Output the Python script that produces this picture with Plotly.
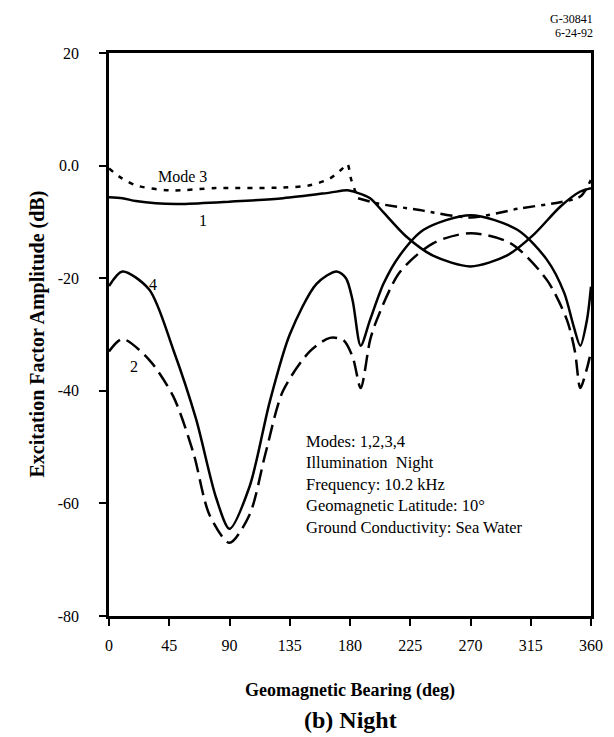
import plotly.graph_objects as go

# Mode excitation factor amplitudes (dB), by bearing (deg)
mode1_deg = [0, 10, 20, 35, 55, 90, 130, 165, 178, 185, 195, 205, 222, 242, 270, 297, 317, 337, 352, 360]
mode1_db = [-5.6, -5.8, -6.3, -6.7, -6.8, -6.4, -5.8, -4.8, -4.4, -4.8, -5.8, -8.3, -12.6, -16.0, -17.9, -16.0, -12.3, -7.3, -4.6, -4.0]

mode3a_deg = [0, 8, 20, 45, 80, 130, 150, 165, 174, 178, 181, 186]
mode3a_db = [-0.5, -2.0, -3.5, -4.4, -4.0, -3.9, -3.5, -2.3, -0.6, 0.3, -2.6, -5.8]
mode3b_deg = [186, 200, 232, 270, 307, 337, 352, 360]
mode3b_db = [-5.8, -6.7, -7.9, -9.2, -7.6, -6.5, -5.5, -2.5]

mode4_deg = [0, 10, 30, 48, 65, 80, 90, 105, 120, 135, 155, 170, 177, 182, 188, 195, 205, 217, 235, 270,
             305, 327, 340, 347, 352, 357, 360]
mode4_db = [-21.4, -18.8, -22.0, -32.7, -45.0, -59.0, -64.5, -57.0, -42.0, -30.0, -21.0, -18.8, -20.0, -24.0,
            -32.0, -27.4, -21.0, -16.0, -11.4, -8.8, -11.4, -16.7, -22.6, -28.5, -32.0, -27.4, -21.5]

mode2_deg = [0, 10, 30, 48, 63, 75, 90, 105, 117, 130, 150, 165, 175, 182, 188, 195, 200, 217, 242, 270,
             300, 327, 342, 348, 352, 357, 360]
mode2_db = [-33.0, -30.8, -34.5, -41.0, -51.0, -62.0, -67.0, -62.0, -51.0, -40.0, -33.0, -30.6, -31.0, -34.0,
            -39.5, -31.0, -27.4, -19.0, -13.8, -12.0, -13.8, -20.3, -27.4, -33.0, -39.5, -36.0, -33.0]

x_ticks = [0, 45, 90, 135, 180, 225, 270, 315, 360]
y_ticks = [20, 0, -20, -40, -60, -80]
y_ticktext = ['20', '0.0', '-20', '-40', '-60', '-80']

info_lines = ['Modes: 1,2,3,4', 'Illumination  Night', 'Frequency: 10.2 kHz',
              'Geomagnetic Latitude: 10°', 'Ground Conductivity: Sea Water']

serif = 'Liberation Serif, Times New Roman, serif'

fig = go.Figure()

curves = [
    (mode1_deg, mode1_db, 'solid'),
    (mode3a_deg, mode3a_db, '5px,7px'),
    (mode3b_deg, mode3b_db, '12px,6px,4px,6px'),
    (mode4_deg, mode4_db, 'solid'),
    (mode2_deg, mode2_db, '16px,7px'),
]
for xs, ys, dash in curves:
    fig.add_trace(go.Scatter(
        x=xs, y=ys, mode='lines',
        line=dict(color='black', width=2.5, dash=dash, shape='spline', smoothing=0.8),
        showlegend=False, hoverinfo='skip'))

# curve labels
for text, x, y in [('Mode 3', 55, -1.9), ('1', 70, -9.7), ('4', 33, -21.2), ('2', 19, -35.6)]:
    fig.add_annotation(x=x, y=y, text=text, showarrow=False,
                       font=dict(family=serif, size=16, color='black'))

fig.add_annotation(x=146, y=-47, xanchor='left', yanchor='top', align='left',
                   text='<br>'.join(info_lines), showarrow=False,
                   font=dict(family=serif, size=16.5, color='black'))

# stamp, titles
fig.add_annotation(xref='paper', yref='paper', x=1.0, y=1.0, xshift=4, yshift=34,
                   xanchor='right', yanchor='middle', text='G-30841', showarrow=False,
                   font=dict(family=serif, size=12, color='black'))
fig.add_annotation(xref='paper', yref='paper', x=1.0, y=1.0, xshift=4, yshift=20,
                   xanchor='right', yanchor='middle', text='6-24-92', showarrow=False,
                   font=dict(family=serif, size=12, color='black'))
fig.add_annotation(xref='paper', yref='paper', x=0.5, y=0, yshift=-74,
                   xanchor='center', yanchor='middle', text='<b>Geomagnetic Bearing (deg)</b>',
                   showarrow=False, font=dict(family=serif, size=18, color='black'))
fig.add_annotation(xref='paper', yref='paper', x=0.5, y=0, yshift=-104,
                   xanchor='center', yanchor='middle', text='<b>(b) Night</b>',
                   showarrow=False, font=dict(family=serif, size=24, color='black'))
fig.add_annotation(xref='paper', yref='paper', x=0, y=0.5, xshift=-72, textangle=-90,
                   xanchor='center', yanchor='middle', text='<b>Excitation Factor Amplitude (dB)</b>',
                   showarrow=False, font=dict(family=serif, size=20, color='black'))

fig.update_xaxes(range=[0, 360], tickvals=x_ticks, ticks='outside', ticklen=7, tickwidth=1.5,
                 tickcolor='black', showline=True, linewidth=2.5, linecolor='black', mirror=True,
                 showgrid=False, zeroline=False, ticklabelstandoff=6,
                 tickfont=dict(family=serif, size=16, color='black'))
fig.update_yaxes(range=[-80, 20], tickvals=y_ticks, ticktext=y_ticktext, ticks='outside', ticklen=7,
                 tickwidth=1.5, tickcolor='black', showline=True, linewidth=2.5, linecolor='black',
                 mirror=True, showgrid=False, zeroline=False, ticklabelstandoff=17,
                 tickfont=dict(family=serif, size=16, color='black'))

fig.update_layout(
    width=614,
    height=737,
    autosize=False,
    margin=dict(t=45, b=129, l=101, r=31),
    paper_bgcolor='white',
    plot_bgcolor='white',
    showlegend=False,
)

fig.write_html("out.html")
